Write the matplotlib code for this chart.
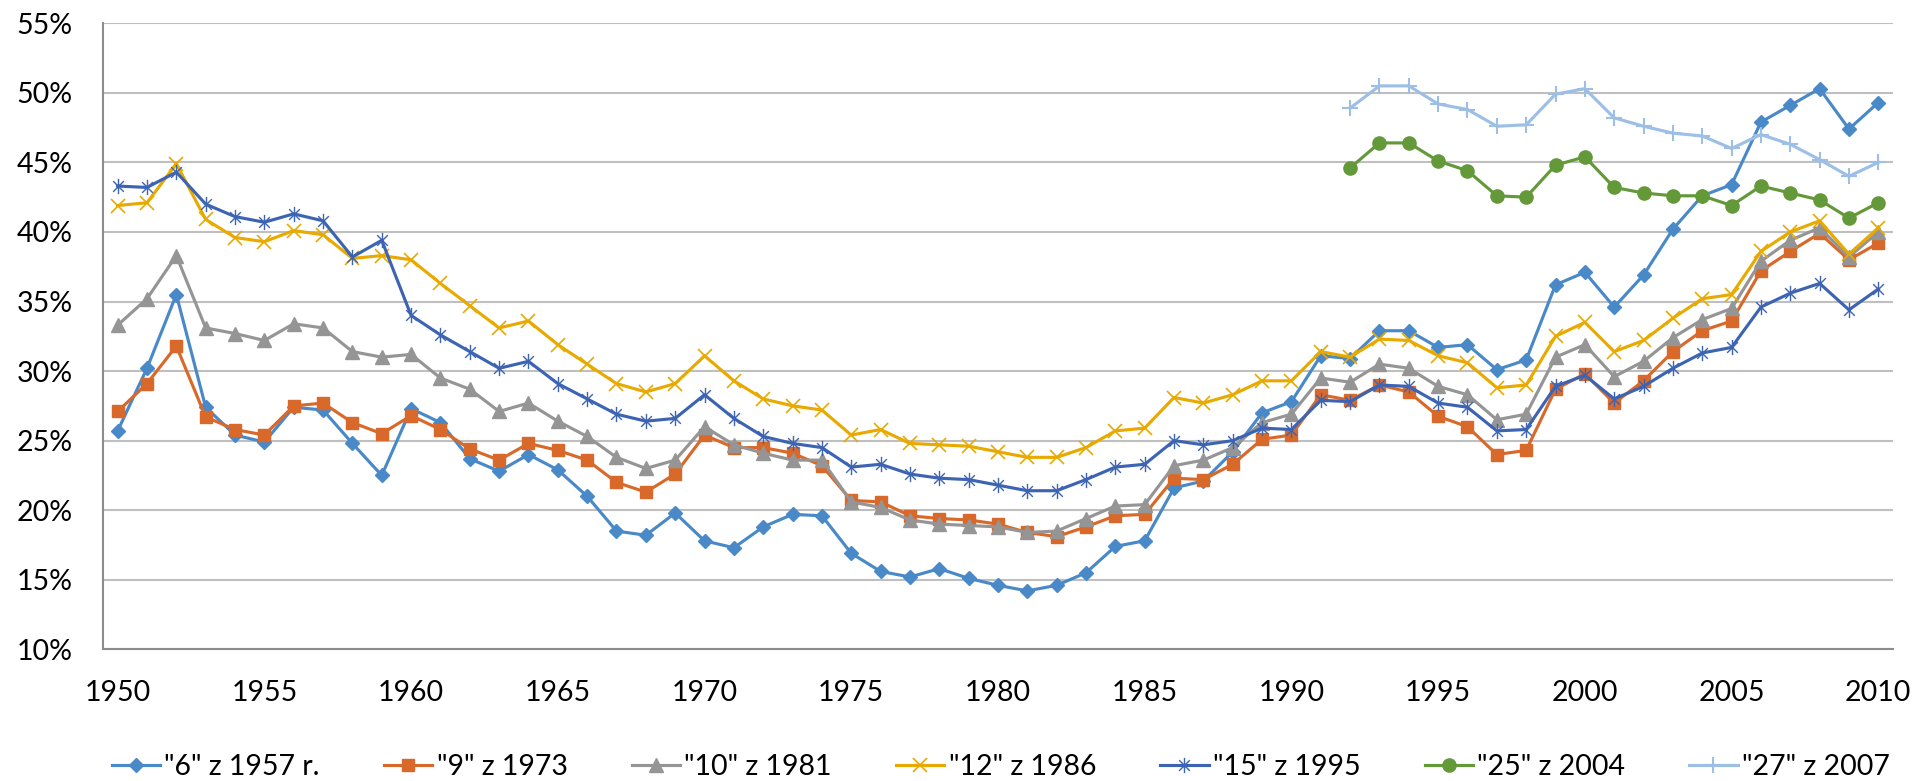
"""
Wykres udziału (w %) dla kolejnych serii - odtworzenie wykresu liniowego z Excela.
"""

import matplotlib
matplotlib.use('Agg')
import matplotlib.pyplot as plt
from matplotlib.path import Path

# lata na osi X (oś kategorii 1950-2010)
years = list(range(1950, 2011))
years_late = list(range(1992, 2011))
x_ticks = [1950, 1955, 1960, 1965, 1970, 1975, 1980, 1985, 1990, 1995, 2000, 2005, 2010]
y_ticks = [10, 15, 20, 25, 30, 35, 40, 45, 50, 55]

labels = ['"6" z 1957 r.', '"9" z 1973', '"10" z 1981', '"12" z 1986',
          '"15" z 1995', '"25" z 2004', '"27" z 2007']

s6 = [25.7, 30.2, 35.5, 27.4, 25.4, 24.9, 27.4, 27.2, 24.8, 22.5,
      27.3, 26.3, 23.7, 22.8, 24.0, 22.9, 21.0, 18.5, 18.2, 19.8,
      17.8, 17.3, 18.8, 19.7, 19.6, 16.9, 15.6, 15.2, 15.8, 15.1,
      14.6, 14.2, 14.6, 15.5, 17.4, 17.8, 21.6, 22.1, 24.2, 27.0,
      27.8, 31.1, 30.9, 32.9, 32.9, 31.7, 31.9, 30.1, 30.8, 36.2,
      37.1, 34.6, 36.9, 40.2, 42.6, 43.4, 47.9, 49.1, 50.3, 47.4, 49.3]

s9 = [27.1, 29.1, 31.8, 26.7, 25.8, 25.4, 27.5, 27.7, 26.3, 25.5,
      26.8, 25.8, 24.4, 23.6, 24.8, 24.3, 23.6, 22.0, 21.3, 22.6,
      25.4, 24.5, 24.5, 24.1, 23.2, 20.7, 20.6, 19.6, 19.4, 19.3,
      19.0, 18.4, 18.1, 18.8, 19.6, 19.7, 22.3, 22.2, 23.3, 25.1,
      25.4, 28.3, 27.9, 29.0, 28.5, 26.75, 26.0, 24.0, 24.3, 28.7,
      29.8, 27.7, 29.3, 31.4, 32.9, 33.6, 37.2, 38.6, 39.9, 38.0, 39.2]

s10 = [33.3, 35.2, 38.3, 33.1, 32.7, 32.2, 33.4, 33.1, 31.4, 31.0,
       31.2, 29.5, 28.7, 27.1, 27.7, 26.4, 25.3, 23.8, 23.0, 23.6,
       26.0, 24.7, 24.1, 23.6, 23.6, 20.6, 20.2, 19.3, 19.0, 18.9,
       18.8, 18.4, 18.5, 19.4, 20.3, 20.4, 23.2, 23.6, 24.5, 26.3,
       26.9, 29.5, 29.2, 30.5, 30.2, 28.9, 28.3, 26.5, 26.9, 31.0,
       31.9, 29.6, 30.7, 32.4, 33.7, 34.5, 37.9, 39.4, 40.3, 38.2, 40.0]

s12 = [41.9, 42.1, 44.9, 40.9, 39.6, 39.3, 40.1, 39.8, 38.1, 38.3,
       38.0, 36.3, 34.7, 33.1, 33.6, 31.9, 30.5, 29.1, 28.5, 29.1,
       31.1, 29.3, 28.0, 27.5, 27.2, 25.4, 25.8, 24.8, 24.7, 24.6,
       24.2, 23.8, 23.8, 24.5, 25.7, 25.9, 28.1, 27.7, 28.3, 29.3,
       29.3, 31.4, 31.0, 32.3, 32.2, 31.1, 30.6, 28.8, 29.0, 32.5,
       33.5, 31.4, 32.2, 33.8, 35.2, 35.5, 38.6, 40.0, 40.8, 38.4, 40.3]

s15 = [43.3, 43.2, 44.3, 42.0, 41.1, 40.7, 41.3, 40.8, 38.2, 39.4,
       34.0, 32.6, 31.4, 30.2, 30.7, 29.1, 28.0, 26.9, 26.4, 26.6,
       28.3, 26.6, 25.3, 24.8, 24.5, 23.1, 23.3, 22.6, 22.3, 22.2,
       21.8, 21.4, 21.4, 22.2, 23.1, 23.3, 25.0, 24.7, 25.0, 25.9,
       25.8, 27.9, 27.8, 29.0, 28.9, 27.7, 27.4, 25.7, 25.8, 28.9,
       29.7, 28.0, 28.9, 30.2, 31.3, 31.7, 34.6, 35.6, 36.3, 34.4, 35.9]

# dwie ostatnie serie zaczynają się dopiero w 1992 r.
s25 = [44.6, 46.4, 46.4, 45.1, 44.4, 42.6, 42.5, 44.8, 45.4, 43.2,
       42.8, 42.6, 42.6, 41.9, 43.3, 42.8, 42.3, 41.0, 42.1]
s27 = [48.9, 50.5, 50.5, 49.2, 48.8, 47.6, 47.7, 49.9, 50.3, 48.2,
       47.6, 47.1, 46.9, 46.0, 47.0, 46.3, 45.2, 44.0, 45.0]

# znacznik "gwiazdka" jak w Excelu: X + pionowa kreska
star = Path([(0, -1), (0, 1), (-0.7, -0.7), (0.7, 0.7), (-0.7, 0.7), (0.7, -0.7)],
            [Path.MOVETO, Path.LINETO, Path.MOVETO, Path.LINETO, Path.MOVETO, Path.LINETO])

plt.rcParams['font.family'] = ['Lato', 'DejaVu Sans']
FS = 20.5

fig = plt.figure(figsize=(19.32, 7.81), dpi=100)
ax = fig.add_axes([0.0533, 0.1686, 0.9265, 0.8016])

lw = 2.25
ax.plot(years, s6, color='#4A89C8', lw=lw, marker='D', ms=7.2, label=labels[0])
ax.plot(years, s9, color='#D9692A', lw=lw, marker='s', ms=9, label=labels[1])
ax.plot(years, s10, color='#959595', lw=lw, marker='^', ms=9.5, label=labels[2])
ax.plot(years, s12, color='#E8AA00', lw=lw, marker='x', ms=10, mew=1.2, label=labels[3])
ax.plot(years, s15, color='#3D64B3', lw=lw, marker=star, ms=11, mew=1.0,
        mfc='none', label=labels[4])
ax.plot(years_late, s25, color='#64993A', lw=lw, marker='o', ms=9.5, label=labels[5])
ax.plot(years_late, s27, color='#9DBFE5', lw=lw, marker='+', ms=11, mew=1.5, label=labels[6])

# osie
ax.set_xlim(1949.5, 2010.5)
ax.set_ylim(10, 55)
ax.set_xticks(x_ticks)
ax.set_yticks(y_ticks)
ax.set_yticklabels([f'{v}%' for v in y_ticks])
ax.tick_params(axis='both', length=0, labelsize=FS, pad=22)
ax.grid(True, axis='y', color='#BFBFBF', lw=1.5)
ax.set_axisbelow(True)

for side in ['top', 'right']:
    ax.spines[side].set_visible(False)
for side in ['left', 'bottom']:
    ax.spines[side].set_color('#8C8C8C')
    ax.spines[side].set_linewidth(1.5)

fig.legend(loc='center', bbox_to_anchor=(0.518, 0.018), ncol=7, frameon=False,
           fontsize=FS, handlelength=1.7, handletextpad=0.15, columnspacing=2.25,
           borderpad=0, numpoints=1)

fig.savefig('out.png', dpi=100)
plt.close(fig)
